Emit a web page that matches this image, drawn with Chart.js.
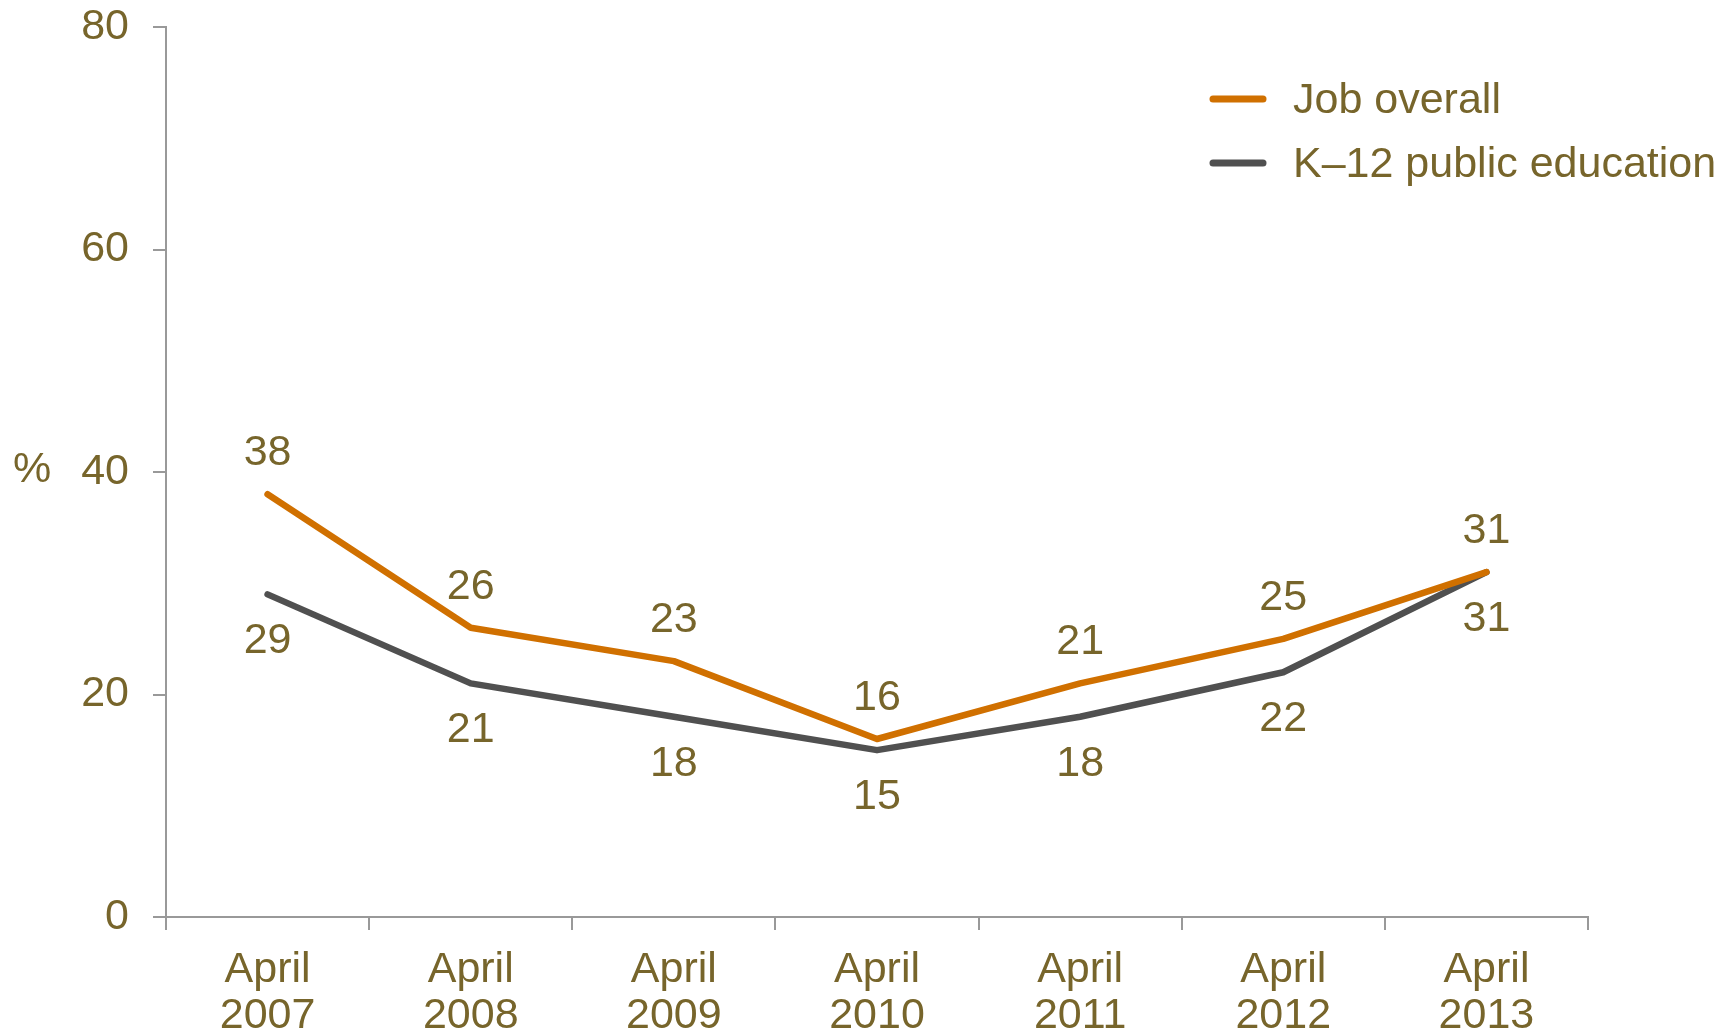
<!DOCTYPE html>
<html>
<head>
<meta charset="utf-8">
<script src="https://cdn.jsdelivr.net/npm/chart.js@4.4.0/dist/chart.umd.min.js"></script>
<style>
  html, body { margin: 0; padding: 0; background: #fff; }
  #wrap { width: 1734px; height: 1035px; }
</style>
</head>
<body>
<div id="wrap"><canvas id="lineChart" width="1734" height="1035"></canvas></div>
<script>
const categories = [['April', '2007'], ['April', '2008'], ['April', '2009'], ['April', '2010'], ['April', '2011'], ['April', '2012'], ['April', '2013']];
const jobOverall = [38, 26, 23, 16, 21, 25, 31];
const k12Education = [29, 21, 18, 15, 18, 22, 31];
const yTicks = [0, 20, 40, 60, 80];

const textColor = '#77652b';
const axisColor = '#999999';
const font = 'Liberation Sans, Arial, sans-serif';
const fontSize = 43;

// value labels: orange above the line, grey below
const valueLabels = {
  id: 'valueLabels',
  afterDatasetsDraw(chart) {
    const ctx = chart.ctx;
    ctx.save();
    ctx.font = fontSize + 'px ' + font;
    ctx.fillStyle = textColor;
    ctx.textAlign = 'center';
    ctx.textBaseline = 'middle';
    chart.data.datasets.forEach((ds, i) => {
      const meta = chart.getDatasetMeta(i);
      const offset = i === 0 ? -41 : 47;
      meta.data.forEach((pt, j) => {
        ctx.fillText(String(ds.data[j]), pt.x, pt.y + offset);
      });
    });
    ctx.restore();
  }
};

// legend and "%" title
const extras = {
  id: 'extras',
  afterDraw(chart) {
    const ctx = chart.ctx;
    const y = chart.scales.y;
    ctx.save();
    ctx.font = fontSize + 'px ' + font;
    ctx.fillStyle = textColor;
    ctx.textAlign = 'center';
    ctx.textBaseline = 'middle';
    ctx.fillText('%', 32, y.getPixelForValue(40) - 2);

    ctx.textAlign = 'left';
    ctx.lineCap = 'round';
    ctx.lineWidth = 7;
    chart.data.datasets.forEach((ds, i) => {
      const ly = 99 + i * 64;
      ctx.strokeStyle = ds.borderColor;
      ctx.beginPath();
      ctx.moveTo(1213, ly);
      ctx.lineTo(1263, ly);
      ctx.stroke();
      ctx.fillText(ds.label, 1293, ly + 2);
    });
    ctx.restore();
  }
};

new Chart(document.getElementById('lineChart').getContext('2d'), {
  type: 'line',
  data: {
    labels: categories,
    datasets: [
      {
        label: 'Job overall',
        data: jobOverall,
        borderColor: '#d07000',
        borderWidth: 6.5,
        borderCapStyle: 'round',
        borderJoinStyle: 'round',
        pointRadius: 0,
        tension: 0
      },
      {
        label: 'K–12 public education',
        data: k12Education,
        borderColor: '#505050',
        borderWidth: 6.5,
        borderCapStyle: 'round',
        borderJoinStyle: 'round',
        pointRadius: 0,
        tension: 0
      }
    ]
  },
  options: {
    responsive: false,
    animation: false,
    devicePixelRatio: 1,
    layout: { padding: { top: 27, right: 146, left: 0, bottom: 0 } },
    plugins: {
      legend: { display: false },
      tooltip: { enabled: false }
    },
    scales: {
      x: {
        offset: true,
        grid: {
          offset: true,
          drawOnChartArea: false,
          tickLength: 13,
          color: axisColor,
          lineWidth: 2
        },
        border: { color: axisColor, width: 2 },
        ticks: {
          color: textColor,
          font: { family: font, size: fontSize, lineHeight: 1.07 },
          padding: 17,
          maxRotation: 0,
          autoSkip: false
        },
        afterFit(scale) { scale.height = 118; }
      },
      y: {
        min: 0,
        max: 80,
        afterBuildTicks(scale) { scale.ticks = yTicks.map(v => ({ value: v })); },
        grid: {
          drawOnChartArea: false,
          tickLength: 13,
          color: axisColor,
          lineWidth: 2
        },
        border: { color: axisColor, width: 2 },
        ticks: {
          color: textColor,
          font: { family: font, size: fontSize },
          padding: 24
        },
        afterFit(scale) {
          scale.width = 166;
          scale.paddingTop = 0;
          scale.paddingBottom = 0;
        }
      }
    }
  },
  plugins: [valueLabels, extras]
});
</script>
</body>
</html>
